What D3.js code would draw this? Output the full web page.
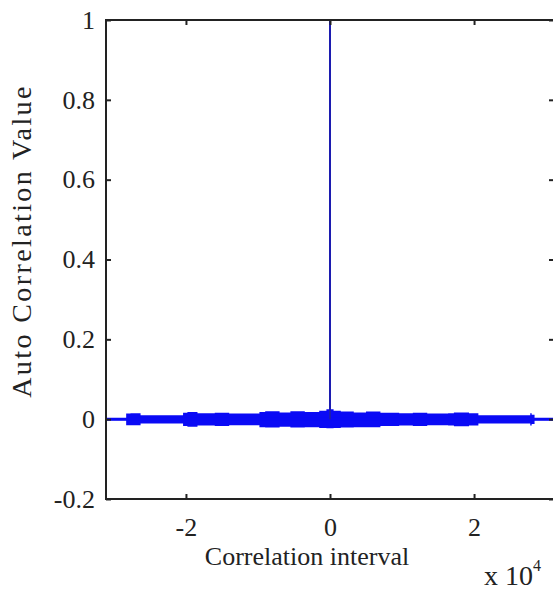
<!DOCTYPE html>
<html>
<head>
<meta charset="utf-8">
<title>Auto Correlation</title>
<script src="https://cdnjs.cloudflare.com/ajax/libs/d3/7.8.5/d3.min.js"></script>
<style>
    html, body { margin: 0; padding: 0; background: #fff; }
    svg { display: block; font-family: "Liberation Serif", "Times New Roman", serif; }
    svg text { font-family: "Liberation Serif", "Times New Roman", serif !important; }
</style>
</head>
<body>
<div id="chart"></div>
<script>
    // axis limits and ticks (lag in samples)
    const lagLimits = [-31100, 31100];
    const valueLimits = [-0.2, 1];
    const lagTicks = [-20000, 0, 20000];
    const valueTicks = [-0.2, 0, 0.2, 0.4, 0.6, 0.8, 1];

    // zero-lag peak
    const peakLag = [0];
    const peakValue = [1];

    // envelope of the noisy side lobes (lag, upper, lower)
    const envLag   = [-31100, -28300, -27700, -26300, -20400, -19800, -18400, -16000, -14000, -9800, -9000, -7000, -5500, -3500, -1500, -500, 500, 1500, 3300, 5000, 7000, 9600, 11500, 13500, 16400, 17200, 19300, 20600, 27800, 28000, 28400, 31100];
    const envUpper = [0.003, 0.014, 0.015, 0.010, 0.016, 0.018, 0.015, 0.016, 0.014, 0.018, 0.020, 0.017, 0.020, 0.018, 0.021, 0.025, 0.021, 0.019, 0.017, 0.019, 0.016, 0.015, 0.016, 0.014, 0.015, 0.017, 0.015, 0.010, 0.015, 0.011, 0.003, 0.003];
    const envLower = [-0.003, -0.015, -0.015, -0.011, -0.017, -0.019, -0.016, -0.017, -0.015, -0.020, -0.021, -0.019, -0.021, -0.020, -0.022, -0.023, -0.022, -0.021, -0.020, -0.020, -0.017, -0.016, -0.017, -0.015, -0.016, -0.018, -0.016, -0.011, -0.016, -0.012, -0.003, -0.003];

    const width = 553, height = 590;
    const margin = { left: 106, top: 20, right: -1, bottom: 91 };

    const svg = d3.select("#chart").append("svg")
        .attr("width", width)
        .attr("height", height);

    svg.append("rect").attr("width", width).attr("height", height).attr("fill", "#fff");

    const x = d3.scaleLinear().domain(lagLimits).range([margin.left, width - margin.right]);
    const y = d3.scaleLinear().domain(valueLimits).range([height - margin.bottom, margin.top]);

    const plot = svg.append("g");

    const env = envLag.map((d, i) => ({ lag: d, hi: envUpper[i], lo: envLower[i] }));

    plot.append("path")
        .datum(env)
        .attr("fill", "#0a0af5")
        .attr("d", d3.area()
            .curve(d3.curveStepAfter)
            .x(d => x(d.lag))
            .y0(d => y(d.lo))
            .y1(d => y(d.hi)));

    plot.append("line")
        .attr("x1", x(lagLimits[0])).attr("x2", x(lagLimits[1]))
        .attr("y1", y(0)).attr("y2", y(0))
        .attr("stroke", "#0a0af5")
        .attr("stroke-width", 3);

    plot.selectAll(".peak")
        .data(peakLag)
        .enter()
        .append("line")
        .attr("class", "peak")
        .attr("x1", d => x(d)).attr("x2", d => x(d))
        .attr("y1", y(0))
        .attr("y2", (d, i) => y(peakValue[i]))
        .attr("stroke", "#1c1cb0")
        .attr("stroke-width", 2);

    // axes box, ticks point inwards like matlab
    const tickLen = 5;
    const axisColor = "#222";

    svg.append("rect")
        .attr("x", x(lagLimits[0]))
        .attr("y", y(valueLimits[1]))
        .attr("width", x(lagLimits[1]) - x(lagLimits[0]))
        .attr("height", y(valueLimits[0]) - y(valueLimits[1]))
        .attr("fill", "none")
        .attr("stroke", axisColor)
        .attr("stroke-width", 2);

    const xAxis = d3.axisBottom(x)
        .tickValues(lagTicks)
        .tickSize(-tickLen)
        .tickPadding(19)
        .tickFormat(d => String(d / 10000).replace("\u2212", "-"));

    const gx = svg.append("g")
        .attr("transform", `translate(0,${y(valueLimits[0])})`)
        .call(xAxis);

    const xAxisTop = d3.axisTop(x).tickValues(lagTicks).tickSize(-tickLen).tickFormat("");
    const gxt = svg.append("g")
        .attr("transform", `translate(0,${y(valueLimits[1])})`)
        .call(xAxisTop);

    const yAxis = d3.axisLeft(y)
        .tickValues(valueTicks)
        .tickSize(-tickLen)
        .tickPadding(11)
        .tickFormat(d => d === 0 || d === 1 ? String(d) : d.toFixed(1).replace("\u2212", "-"));

    const gy = svg.append("g")
        .attr("transform", `translate(${x(lagLimits[0])},0)`)
        .call(yAxis);

    const yAxisRight = d3.axisRight(y).tickValues(valueTicks).tickSize(-tickLen).tickFormat("");
    const gyr = svg.append("g")
        .attr("transform", `translate(${x(lagLimits[1])},0)`)
        .call(yAxisRight);

    [gx, gxt, gy, gyr].forEach(g => {
        g.attr("font-family", null).attr("font-size", 26);
        g.select(".domain").remove();
        g.selectAll(".tick line").attr("stroke", axisColor).attr("stroke-width", 2);
        g.selectAll(".tick text").attr("fill", "#222");
    });

    // axis labels
    svg.append("text")
        .attr("x", 307)
        .attr("y", 565)
        .attr("text-anchor", "middle")
        .style("font-size", "26px")
        .attr("fill", "#222")
        .text("Correlation interval");

    svg.append("text")
        .attr("transform", "translate(31,241) rotate(-90)")
        .attr("text-anchor", "middle")
        .style("font-size", "28px")
        .style("letter-spacing", "2.4px")
        .attr("fill", "#222")
        .text("Auto Correlation Value");

    // exponent label
    const expo = svg.append("text")
        .attr("x", 484)
        .attr("y", 585)
        .style("font-size", "28px")
        .attr("fill", "#222");
    expo.append("tspan").text("x 10");
    expo.append("tspan")
        .attr("dy", -14)
        .style("font-size", "16px")
        .text("4");
</script>
</body>
</html>
